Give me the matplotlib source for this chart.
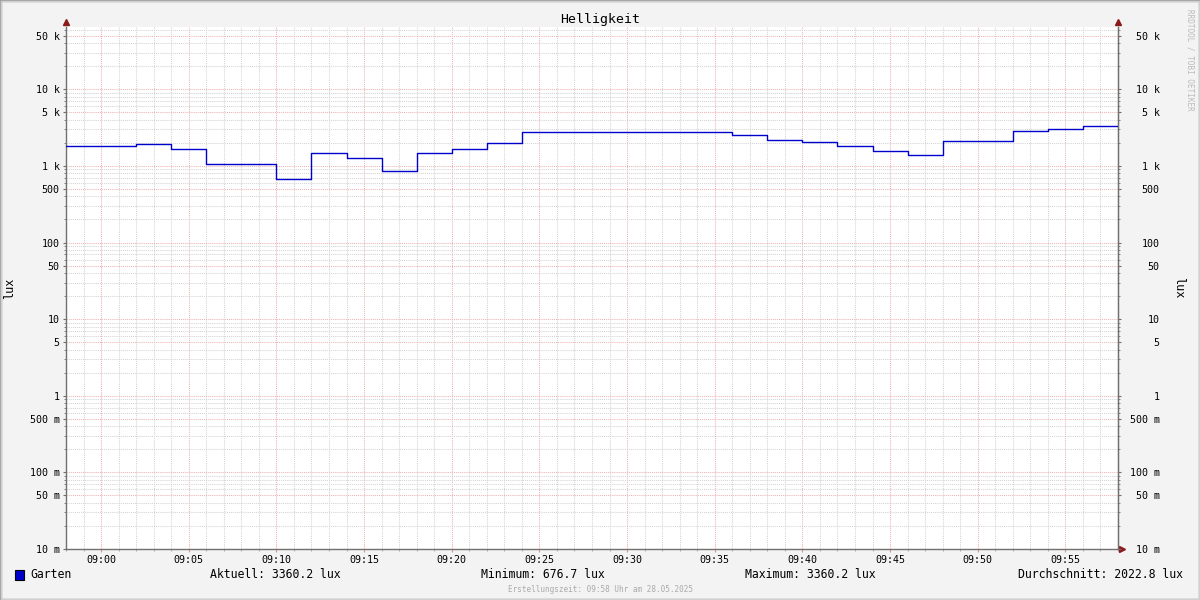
import datetime as dt
import matplotlib
matplotlib.use("Agg")
import matplotlib.pyplot as plt
import matplotlib.dates as mdates
import matplotlib.ticker as mticker
from matplotlib.patches import Rectangle

# ---- data ----
title = "Helligkeit"
series_name = "Garten"
unit = "lux"
seg_start = ["08:58", "09:02", "09:04", "09:06", "09:10", "09:12", "09:14", "09:16",
             "09:18", "09:20", "09:22", "09:24", "09:36", "09:38", "09:40", "09:42",
             "09:44", "09:46", "09:48", "09:52", "09:54", "09:56"]
seg_values = [1809, 1940, 1652, 1062, 676.7, 1466, 1261, 853,
              1466, 1652, 1982, 2757, 2518, 2167, 2041, 1809,
              1556, 1380, 2103, 2842, 3073, 3360.2]
end_time = "09:58"
y_tick_values = [0.01, 0.05, 0.1, 0.5, 1, 5, 10, 50, 100, 500, 1000, 5000, 10000, 50000]
y_tick_labels = ["10 m", "50 m", "100 m", "500 m", "1", "5", "10", "50", "100", "500",
                 "1 k", "5 k", "10 k", "50 k"]
legend_stats = [("Aktuell: 3360.2 lux", 210, "left"),
                ("Minimum: 676.7 lux", 481, "left"),
                ("Maximum: 3360.2 lux", 745, "left"),
                ("Durchschnitt: 2022.8 lux", 1183, "right")]
footer = "Erstellungszeit: 09:58 Uhr am 28.05.2025"
watermark = "RRDTOOL / TOBI OETIKER"

day = dt.date(2025, 5, 28)
def t(s):
    h, m = map(int, s.split(":"))
    return dt.datetime.combine(day, dt.time(h, m))

xs = [t(s) for s in seg_start] + [t(end_time)]
ys = seg_values + [seg_values[-1]]

W, H = 1200, 600
fig = plt.figure(figsize=(12, 6), dpi=100)
fig.patch.set_facecolor("#F3F3F3")
mono = "DejaVu Sans Mono"

# figure border
fig.add_artist(Rectangle((0, 0), 1, 1, transform=fig.transFigure, fill=False,
                         edgecolor="#9E9E9E", linewidth=2.5))
fig.add_artist(Rectangle((1/W, 1/H), 1 - 2/W, 1 - 2/H, transform=fig.transFigure,
                         fill=False, edgecolor="#D0D0D0", linewidth=1))

L, R, B, T = 66, 1118, 549, 27
ax = fig.add_axes([L / W, 1 - B / H, (R - L) / W, (B - T) / H])
ax.set_facecolor("white")

ax.step(xs, ys, where="post", color="#0000CC", linewidth=1.0, zorder=5)

ax.set_yscale("log")
ax.set_ylim(0.01, 65000)
ax.set_xlim(t("08:58"), t(end_time))

def setup_y(a):
    a.yaxis.set_major_locator(mticker.FixedLocator(y_tick_values))
    a.yaxis.set_major_formatter(mticker.FixedFormatter(y_tick_labels))
    a.yaxis.set_minor_locator(mticker.LogLocator(base=10, subs=(2, 3, 4, 6, 7, 8, 9), numticks=30))
    a.yaxis.set_minor_formatter(mticker.NullFormatter())

setup_y(ax)

ax.xaxis.set_major_locator(mdates.MinuteLocator(byminute=range(0, 60, 5)))
ax.xaxis.set_major_formatter(mdates.DateFormatter("%H:%M"))
ax.xaxis.set_minor_locator(mdates.MinuteLocator(byminute=range(0, 60, 1)))

ax.grid(True, which="major", color="#EDB3B3", linestyle=(0, (1, 1)), linewidth=0.75)
ax.grid(True, which="minor", color="#D4D4D4", linestyle=(0, (1, 1)), linewidth=0.75)
ax.set_axisbelow(True)

ax.spines["top"].set_visible(False)
for s in ["left", "bottom", "right"]:
    ax.spines[s].set_color("#707070")
    ax.spines[s].set_linewidth(1)

ax.tick_params(axis="y", which="both", left=True, right=False, labelleft=True, labelright=False,
               direction="out", length=2, color="#707070", labelsize=7.2, pad=2.5)
ax.tick_params(axis="y", which="minor", length=1.5)
ax.tick_params(axis="x", which="major", direction="out", length=2.5, color="#E09090",
               labelsize=7.2, pad=1.5)
ax.tick_params(axis="x", which="minor", direction="out", length=1.5, color="#A0A0A0")
for lab in ax.get_yticklabels() + ax.get_xticklabels():
    lab.set_fontfamily(mono)

# right axis with duplicated labels
ax2 = ax.twinx()
ax2.set_yscale("log")
ax2.set_ylim(ax.get_ylim())
setup_y(ax2)
for s in ["top", "left", "bottom"]:
    ax2.spines[s].set_visible(False)
ax2.spines["right"].set_color("#707070")
ax2.tick_params(axis="y", which="both", direction="out", length=2, color="#707070",
                labelsize=7.2, pad=28)
ax2.tick_params(axis="y", which="minor", length=1.5)
for lab in ax2.get_yticklabels():
    lab.set_fontfamily(mono)
    lab.set_horizontalalignment("right")

# arrows
arrow_col = "#8B1A1A"
ax.plot([0], [1.01], marker="^", color=arrow_col, markersize=4, transform=ax.transAxes, clip_on=False)
ax.plot([1], [1.01], marker="^", color=arrow_col, markersize=4, transform=ax.transAxes, clip_on=False)
ax.plot([1.004], [0], marker=">", color=arrow_col, markersize=4, transform=ax.transAxes, clip_on=False)

# titles and labels
fig.text(600 / W, 1 - 19 / H, title, ha="center", va="center", fontsize=9.5, family=mono)
fig.text(10 / W, 1 - 288 / H, unit, ha="center", va="center", rotation=90, fontsize=8.5, family=mono)
fig.text(1179 / W, 1 - 288 / H, unit, ha="center", va="center", rotation=270, fontsize=8.5, family=mono)
fig.text(1190 / W, 1 - 60 / H, watermark, ha="center", va="center", rotation=270, fontsize=5.5,
         family=mono, color="#BBBBBB")

# legend
fig.add_artist(Rectangle((15 / W, 1 - 580 / H), 9 / W, 10 / H, transform=fig.transFigure,
                         facecolor="#0000CC", edgecolor="black", linewidth=0.8))
fig.text(30 / W, 1 - 575 / H, series_name, ha="left", va="center", fontsize=8.3, family=mono)
for txt, x, ha in legend_stats:
    fig.text(x / W, 1 - 575 / H, txt, ha=ha, va="center", fontsize=8.3, family=mono)
fig.text(600 / W, 1 - 589 / H, footer, ha="center", va="center", fontsize=5.5, family=mono,
         color="#AAAAAA")

fig.savefig("out.png", dpi=100, facecolor=fig.get_facecolor())
